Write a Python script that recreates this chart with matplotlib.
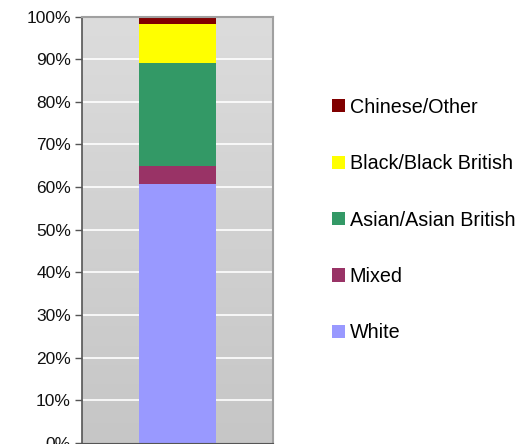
import matplotlib.pyplot as plt
import numpy as np

plt.rcParams['font.family'] = ['Liberation Sans', 'DejaVu Sans']

groups = ["White", "Mixed", "Asian/Asian British", "Black/Black British", "Chinese/Other"]
shares = [60.7, 4.3, 24.1, 9.2, 1.7]
colors = ["#9999FF", "#993366", "#339966", "#FFFF00", "#800000"]
yticks = np.arange(0, 101, 10)
ytick_labels = [f"{v}%" for v in yticks]

fig = plt.figure(figsize=(5.18, 4.44), dpi=100)
ax = fig.add_axes([82 / 518, 1 - 442.7 / 444, 191 / 518, 426 / 444])

# grey gradient background like the old Excel plot area (light at top)
grad = np.linspace(0, 1, 256).reshape(-1, 1)
ax.imshow(grad, cmap=plt.matplotlib.colors.LinearSegmentedColormap.from_list(
    "bg", ["#c6c6c6", "#dcdcdc"]), aspect='auto', extent=(0, 1, 0, 1),
    origin='lower', transform=ax.transAxes, zorder=0)

for v in yticks[1:-1]:
    ax.axhline(v, color="white", lw=1.2, zorder=1)

bottom = 0
handles = []
for name, val, col in zip(groups, shares, colors):
    b = ax.bar(0, val, width=0.4, bottom=bottom, color=col, label=name, zorder=2)
    handles.append(b)
    bottom += val

ax.set_xlim(-0.5, 0.5)
ax.set_ylim(0, 100)
ax.set_yticks(yticks)
ax.set_yticklabels(ytick_labels, fontsize=12.5, color="#111111")
ax.set_xticks([])
ax.tick_params(axis='y', direction='out', length=5, width=1, color="#555555", pad=3)

ax.spines['left'].set_color("#555555")
ax.spines['left'].set_linewidth(1.2)
ax.spines['bottom'].set_color("#555555")
for s in ['top', 'right']:
    ax.spines[s].set_color("#a0a0a0")
    ax.spines[s].set_linewidth(1.5)

leg = fig.legend(handles[::-1], groups[::-1], loc='center left',
                 bbox_to_anchor=(332 / 518, 1 - 220 / 444), frameon=False,
                 fontsize=14.2, handlelength=0.65, handleheight=0.65,
                 handletextpad=0.25, labelspacing=1.9, borderaxespad=0,
                 borderpad=0)

fig.savefig("out.png", dpi=100)
